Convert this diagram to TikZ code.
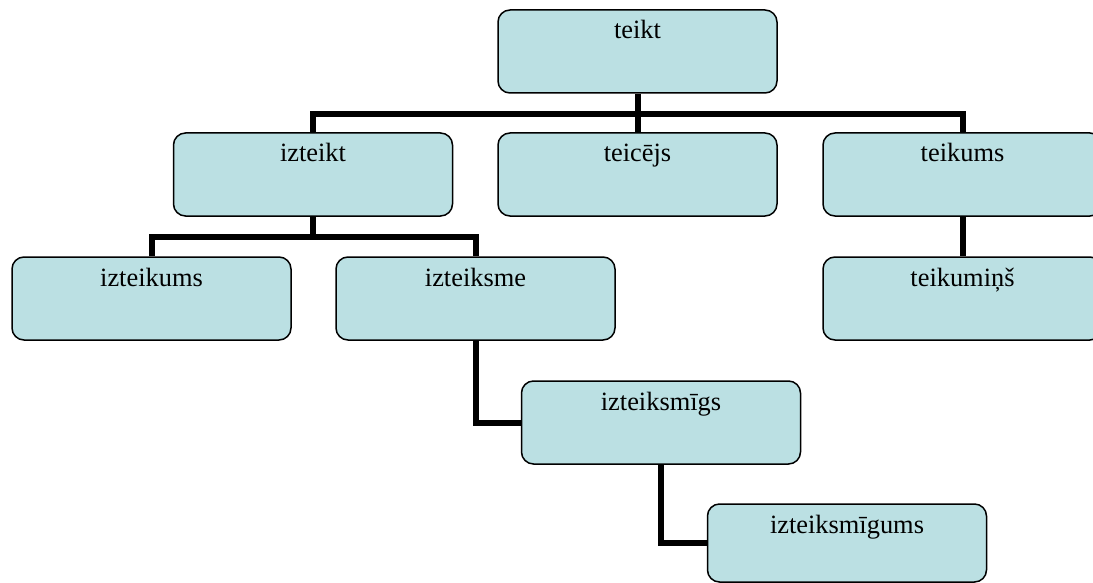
\documentclass[tikz,border=0pt]{standalone}
\usepackage{fontspec}
\setmainfont{Liberation Serif}
\definecolor{boxfill}{RGB}{187,224,227}
\tikzset{
  box/.style={draw=black, line width=1.5pt, fill=boxfill, rounded corners=12pt,
    minimum width=279pt, inner xsep=0pt, inner ysep=0pt,
    text height=29pt, text depth=54pt,
    font=\fontsize{26.4pt}{30pt}\selectfont},
  lastbox/.style={box, text depth=49pt},
  conn/.style={draw=black, line width=6pt, line join=miter}
}
\begin{document}
\begin{tikzpicture}[x=1pt,y=-1pt]
\useasboundingbox (0,0) rectangle (1093,583);
% boxes (centre x, top y + 29 as baseline reference)
\node[box, anchor=base] (teikt) at (637.5,39) {teikt};
\node[box, anchor=base] (izteikt) at (313,162) {izteikt};
\node[box, anchor=base] (teicejs) at (637.5,162) {teicējs};
\node[box, anchor=base] (teikums) at (962.5,162) {teikums};
\node[box, anchor=base] (izteikums) at (151.5,286) {izteikums};
\node[box, anchor=base] (izteiksme) at (475.5,286) {izteiksme};
\node[box, anchor=base] (teikumins) at (962.5,286) {teikumiņš};
\node[box, anchor=base] (izteiksmigs) at (661,410) {izteiksmīgs};
\node[lastbox, anchor=base] (izteiksmigums) at (847,533) {izteiksmīgums};
% connectors
\coordinate (j1) at (637.5,114);
\coordinate (j2) at (313,237);
\draw[conn] (teikt.south) -- (j1);
\draw[conn] (izteikt.north) |- (j1) -| (teikums.north);
\draw[conn] (teicejs.north) -- (j1);
\draw[conn] (izteikt.south) -- (j2);
\draw[conn] (izteikums.north) |- (j2) -| (izteiksme.north);
\draw[conn] (teikums.south) -- (teikumins.north);
\draw[conn] (izteiksme.south) |- (izteiksmigs.west);
\draw[conn] (izteiksmigs.south) |- (izteiksmigums.west);
\end{tikzpicture}
\end{document}
